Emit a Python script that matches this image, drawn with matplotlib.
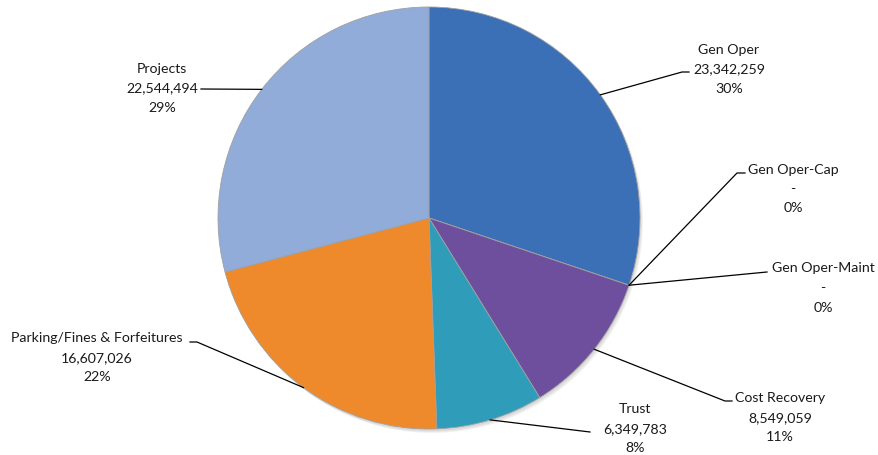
import numpy as np
import matplotlib
matplotlib.use("Agg")
import matplotlib.pyplot as plt

plt.rcParams['font.family'] = ['Lato', 'DejaVu Sans']

categories = ['Gen Oper', 'Gen Oper-Cap', 'Gen Oper-Maint', 'Cost Recovery',
              'Trust', 'Parking/Fines & Forfeitures', 'Projects']
values = [23342259, 0, 0, 8549059, 6349783, 16607026, 22544494]
pct_labels = ['30%', '0%', '0%', '11%', '8%', '22%', '29%']
colors = ['#3b6fb6', '#3b6fb6', '#3b6fb6', '#6e4f9e', '#2f9dba', '#ef8a2c', '#91acd8']

# label text centre and leader line elbow points, in pixels from top-left
label_pos = {
    'Gen Oper': (729, 69),
    'Gen Oper-Cap': (793, 189),
    'Gen Oper-Maint': (823, 288),
    'Cost Recovery': (780, 418),
    'Trust': (635, 429),
    'Parking/Fines & Forfeitures': (97, 358),
    'Projects': (162, 88),
}
elbow = {
    'Gen Oper': [(682, 73), (689, 73)],
    'Gen Oper-Cap': [(737, 174), (745, 174)],
    'Gen Oper-Maint': [(767, 273)],
    'Cost Recovery': [(725, 402), (732, 402)],
    'Trust': [(590, 433)],
    'Parking/Fines & Forfeitures': [(197, 343), (190, 343)],
    'Projects': [(201, 90)],
}

W, H = 879, 456
fig = plt.figure(figsize=(W / 100, H / 100), dpi=100)
ax = fig.add_axes([0, 0, 1, 1])

cx, cy, r = 429, 219, 211
total = sum(values)

# soft shadow under the pie
for i in range(3):
    ax.add_patch(plt.Circle((cx + 1 + i, H - cy - 2 - i), r, color='black',
                            alpha=0.05, lw=0, zorder=1))

wedges, _ = ax.pie(values, colors=colors, startangle=90, counterclock=False,
                   center=(cx, H - cy), radius=r,
                   wedgeprops=dict(edgecolor='#a0a0a0', linewidth=0.6, zorder=2))

ax.set_xlim(0, W)
ax.set_ylim(0, H)
ax.set_aspect('equal')
ax.axis('off')

# leader lines + labels
angle = 90.0
for name, v, p in zip(categories, values, pct_labels):
    frac = v / total
    mid = np.deg2rad(angle - frac * 360 / 2)
    angle -= frac * 360
    px = cx + r * np.cos(mid)
    py = H - cy + r * np.sin(mid)
    pts = [(px, py)] + [(x, H - y) for x, y in elbow[name]]
    xs, ys = zip(*pts)
    ax.plot(xs, ys, color='black', lw=0.9, zorder=3)
    val_txt = f'{v:,}' if v else '-'
    lx, ly = label_pos[name]
    ax.text(lx, H - ly, f'{name}\n{val_txt}\n{p}', ha='center', va='center',
            fontsize=10.2, color='#1a1a1a', linespacing=1.75, zorder=4)

fig.savefig('out.png', dpi=100)
